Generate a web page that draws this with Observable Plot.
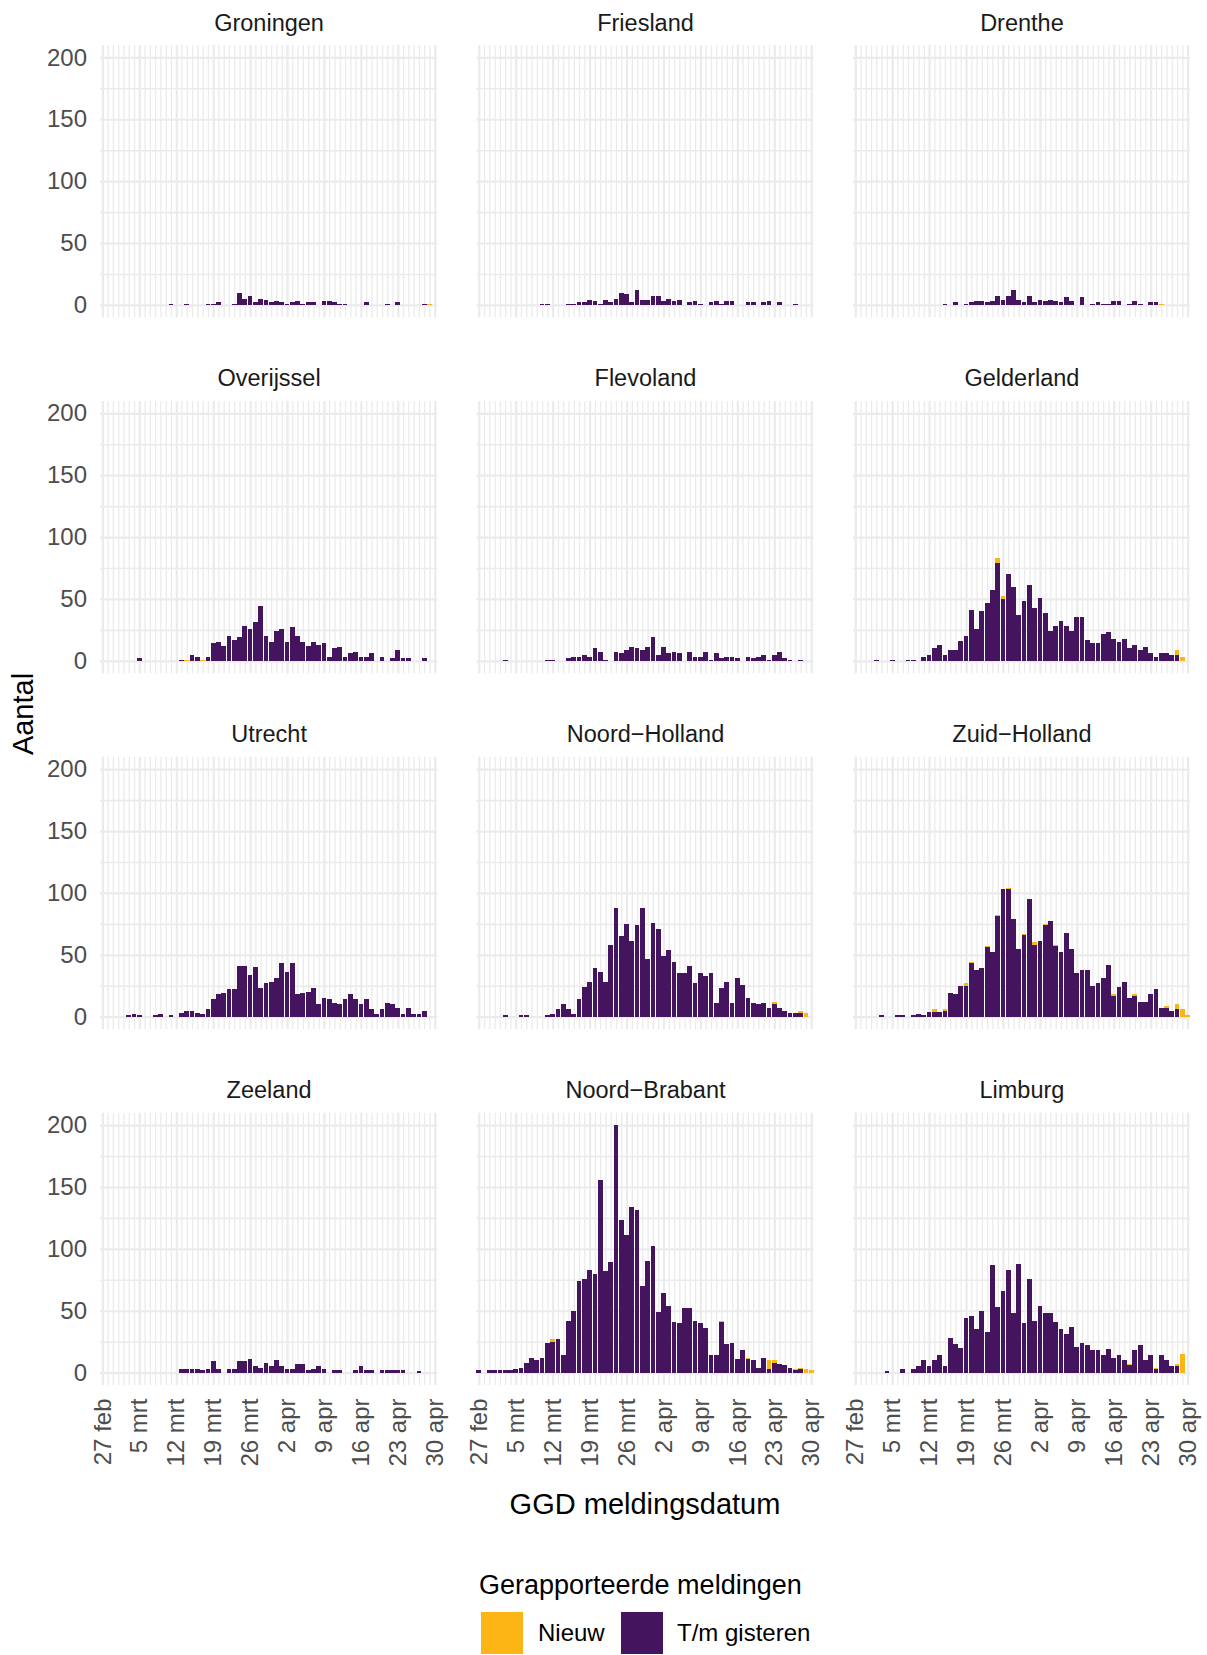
<!DOCTYPE html>
<html>
<head>
<meta charset="utf-8">
<script src="https://cdn.jsdelivr.net/npm/d3@7"></script>
<script src="https://cdn.jsdelivr.net/npm/@observablehq/plot@0.6"></script>
<style>
  body { margin: 0; background: #ffffff; font-family: "Liberation Sans", Arial, sans-serif; }
  #wrap { position: relative; width: 1207px; height: 1655px; overflow: hidden; }
  #wrap svg { position: absolute; left: 0; top: 0; }
  .t { position: absolute; white-space: nowrap; color: #000; }
  .ytitle { left: 23px; top: 714px; font-size: 29px; transform: translate(-50%, -50%) rotate(-90deg); }
  .xtitle { left: 645px; top: 1504px; font-size: 29px; transform: translate(-50%, -50%); }
  .ltitle { left: 479px; top: 1585px; font-size: 27px; transform: translateY(-50%); }
  .key { position: absolute; top: 1612px; width: 42px; height: 42px; }
  .klab { position: absolute; top: 1633px; font-size: 24px; transform: translateY(-50%); color: #000; }
</style>
</head>
<body>
<div id="wrap"></div>
<script>
// ---- categories ----
const regions = ["Groningen","Friesland","Drenthe","Overijssel","Flevoland","Gelderland",
                 "Utrecht","Noord-Holland","Zuid-Holland","Zeeland","Noord-Brabant","Limburg"];
const panelTitles = ["Groningen","Friesland","Drenthe","Overijssel","Flevoland","Gelderland",
                     "Utrecht","Noord\u2212Holland","Zuid\u2212Holland","Zeeland","Noord\u2212Brabant","Limburg"];
const typeNames = ["Nieuw", "T/m gisteren"];
const typeColors = ["#FDB515", "#44155E"];

// ---- tick labels ----
const tickDates = ["2020-02-27","2020-03-05","2020-03-12","2020-03-19","2020-03-26",
                   "2020-04-02","2020-04-09","2020-04-16","2020-04-23","2020-04-30"];
const tickLabels = ["27 feb","5 mrt","12 mrt","19 mrt","26 mrt","2 apr","9 apr","16 apr","23 apr","30 apr"];
const yTicks = [0, 50, 100, 150, 200];
const yMinor = [25, 75, 125, 175];

// ---- daily values, 27 feb .. 30 apr 2020 (64 days) ----
// "T/m gisteren"
const gisteren_Groningen = [0,0,0,0,0,0,0, 0,0,0,0,0,0,1, 0,0,1,0,0,0,1, 1,2,0,0,1,10,5, 7,2,5,4,2,3,2, 1,2,3,1,2,2,0, 3,3,2,1,1,0,0, 0,2,0,0,0,1,0, 2,0,0,0,0,1,0, 0];
const gisteren_Friesland = [0,0,0,0,0,0,0, 0,0,0,0,0,1,1, 0,0,0,1,1,2,2, 4,3,1,4,2,5,10, 9,2,12,4,4,7,7, 3,5,3,4,0,2,3, 1,0,2,3,1,3,3, 0,0,2,2,0,2,3, 0,2,0,0,1,0,0, 0];
const gisteren_Drenthe = [0,0,0,0,0,0,0, 0,0,0,0,0,0,0, 0,0,0,1,0,2,0, 1,2,3,3,2,3,7, 4,7,12,4,2,7,2, 4,3,4,3,2,6,3, 0,6,0,1,2,1,1, 3,3,0,1,3,1,0, 2,2,0,0,0,0,0, 0];
const gisteren_Overijssel = [0,0,0,0,0,0,0, 2,0,0,0,0,0,0, 0,1,0,5,3,0,3, 14,15,12,20,17,19,28, 26,31,44,20,15,24,26, 15,27,20,15,12,15,13, 14,3,10,11,3,6,7, 3,3,6,0,3,0,2, 9,2,2,0,0,2,0, 0];
const gisteren_Flevoland = [0,0,0,0,0,1,0, 0,0,0,0,0,0,1, 1,0,0,2,3,3,5, 3,10,7,1,0,7,6, 9,11,10,9,11,19,5, 11,6,7,6,0,7,3, 3,7,1,6,2,3,3, 2,0,3,2,3,5,1, 5,7,2,1,0,1,0, 0];
const gisteren_Gelderland = [0,0,0,0,1,0,0, 1,0,0,1,1,0,3, 5,10,13,5,9,9,16, 20,41,26,40,47,57,79, 50,70,60,37,48,61,43, 51,39,24,28,32,28,24, 35,35,17,14,14,22,23, 18,15,18,10,13,9,11, 6,3,6,6,5,5,0, 0];
const gisteren_Utrecht = [0,0,0,0,0,1,2, 1,0,0,1,2,0,1, 0,3,5,5,3,2,6, 14,18,19,22,22,41,41, 34,40,23,27,28,31,43, 36,43,18,19,20,23,10, 15,14,11,10,14,18,14, 10,14,6,2,6,11,10, 7,2,7,2,2,5,0, 0];
const gisteren_NoordHolland = [0,0,0,0,0,1,0, 0,1,1,0,0,0,1, 2,6,10,6,2,14,24, 28,39,36,28,58,88,65, 75,61,74,88,47,76,71, 49,54,44,35,35,41,27, 35,33,35,11,23,28,11, 31,26,15,11,10,11,7, 10,7,5,3,3,3,0, 0];
const gisteren_ZuidHolland = [0,0,0,0,0,1,0, 0,1,1,0,1,2,1, 4,4,4,5,19,18,25, 25,43,38,39,56,52,81, 103,103,79,55,66,95,58, 61,74,77,57,52,68,55, 35,38,38,25,27,31,42, 17,24,28,15,17,12,12, 18,22,7,7,5,6,0, 0];
const gisteren_Zeeland = [0,0,0,0,0,0,0, 0,0,0,0,0,0,0, 0,3,3,3,3,2,3, 9,3,0,3,3,9,9, 11,5,4,8,5,10,5, 3,3,7,7,2,3,5, 3,0,2,2,0,0,2, 5,2,2,0,2,2,2, 2,2,0,0,1,0,0, 0];
const gisteren_NoordBrabant = [2,0,2,2,2,2,2, 3,4,8,12,10,12,24, 25,27,14,42,50,74,76, 83,80,156,82,89,200,123, 111,134,131,70,90,102,49, 64,54,41,40,52,52,42, 40,36,14,14,41,23,24, 11,18,11,10,4,12,3, 8,7,6,4,2,3,0, 0];
const gisteren_Limburg = [0,0,0,0,0,0,1, 0,0,3,0,3,5,10, 5,10,14,5,28,23,20, 44,46,35,50,33,87,53, 66,83,48,88,40,76,42, 54,48,48,41,35,31,37, 21,24,22,18,18,14,19, 12,14,10,6,18,22,10, 14,3,14,10,5,5,0, 0];

// "Nieuw"
const nieuw_Groningen = [0,0,0,0,0,0,0, 0,0,0,0,0,0,0, 0,0,0,0,0,0,0, 0,0,0,0,0,0,0, 0,0,0,0,0,0,0, 0,0,0,0,0,0,0, 0,0,0,0,0,0,0, 0,0,0,0,0,0,0, 0,0,0,0,0,0,1, 0];
const nieuw_Friesland = new Array(64).fill(0);
const nieuw_Drenthe = [0,0,0,0,0,0,0, 0,0,0,0,0,0,0, 0,0,0,0,0,0,0, 0,0,0,0,0,0,0, 0,0,0,0,0,0,0, 0,0,0,0,0,0,0, 0,0,0,0,0,0,0, 0,0,0,0,0,0,0, 0,0,1,0,0,0,0, 0];
const nieuw_Overijssel = [0,0,0,0,0,0,0, 0,0,0,0,0,0,0, 0,0,1,0,0,1,0, 0,0,0,0,0,0,0, 0,0,0,0,0,0,0, 0,0,0,0,0,0,0, 0,0,0,0,0,0,0, 0,0,0,0,0,0,0, 0,0,0,0,0,0,0, 0];
const nieuw_Flevoland = new Array(64).fill(0);
const nieuw_Gelderland = [0,0,0,0,0,0,0, 0,0,0,0,0,0,0, 0,0,0,0,0,0,0, 0,0,0,0,0,0,4, 2,0,0,0,0,0,0, 0,0,0,0,0,0,0, 0,0,0,0,0,0,0, 0,0,0,0,0,0,0, 0,0,0,0,0,4,3, 0];
const nieuw_Utrecht = new Array(64).fill(0);
const nieuw_NoordHolland = [0,0,0,0,0,0,0, 0,0,0,0,0,0,0, 0,0,0,0,0,0,0, 0,0,0,0,0,0,0, 0,0,0,0,0,0,0, 0,0,0,0,0,0,0, 0,0,0,0,0,0,0, 0,0,0,0,0,0,0, 2,0,0,0,0,2,3, 0];
const nieuw_ZuidHolland = [0,0,0,0,0,0,0, 0,0,0,0,0,0,0, 0,2,0,1,0,0,0, 2,1,0,0,1,0,1, 0,1,0,0,1,0,2, 0,1,0,1,0,0,0, 0,0,0,0,0,0,0, 1,0,0,0,1,0,0, 0,0,0,2,0,4,6, 1];
const nieuw_Zeeland = new Array(64).fill(0);
const nieuw_NoordBrabant = [0,0,0,0,0,0,0, 0,0,0,0,0,0,0, 2,0,0,0,0,0,0, 0,0,0,0,0,0,0, 0,0,0,0,0,0,0, 0,0,0,0,0,0,0, 0,0,0,0,1,0,0, 0,0,1,0,0,0,7, 2,0,0,0,1,1,3, 2];
const nieuw_Limburg = [0,0,0,0,0,0,0, 0,0,0,0,0,0,0, 0,0,0,0,0,0,0, 0,0,0,0,0,0,0, 0,0,0,0,0,0,0, 0,0,0,0,0,0,0, 0,0,0,0,0,0,0, 0,0,0,1,0,0,0, 0,1,0,0,0,2,15, 0];

const gisterenSeries = [gisteren_Groningen, gisteren_Friesland, gisteren_Drenthe, gisteren_Overijssel,
  gisteren_Flevoland, gisteren_Gelderland, gisteren_Utrecht, gisteren_NoordHolland, gisteren_ZuidHolland,
  gisteren_Zeeland, gisteren_NoordBrabant, gisteren_Limburg];
const nieuwSeries = [nieuw_Groningen, nieuw_Friesland, nieuw_Drenthe, nieuw_Overijssel,
  nieuw_Flevoland, nieuw_Gelderland, nieuw_Utrecht, nieuw_NoordHolland, nieuw_ZuidHolland,
  nieuw_Zeeland, nieuw_NoordBrabant, nieuw_Limburg];

// ---- build table ----
const fmt = d3.utcFormat("%Y-%m-%d");
const dates = d3.utcDay.range(new Date(Date.UTC(2020, 1, 27)), new Date(Date.UTC(2020, 4, 1))).map(fmt);
const tickLabelOf = new Map(tickDates.map((d, i) => [d, tickLabels[i]]));

const table = [];
regions.forEach((r, i) => {
  const col = i % 3, row = Math.floor(i / 3);
  dates.forEach((date, k) => {
    const g = gisterenSeries[i][k], n = nieuwSeries[i][k];
    if (g > 0) table.push({region: r, col, row, date, type: "T/m gisteren", value: g});
    if (n > 0) table.push({region: r, col, row, date, type: "Nieuw", value: n});
  });
});
const panels = regions.map((r, i) => ({region: r, title: panelTitles[i], col: i % 3, row: Math.floor(i / 3)}));

const grid = "#EBEBEB";
const plot = Plot.plot({
  width: 1207,
  height: 1555,
  marginLeft: 100,
  marginRight: 17,
  marginTop: 45,
  marginBottom: 170,
  style: {fontFamily: "'Liberation Sans', Arial, sans-serif", fontSize: "24px", background: "transparent", overflow: "visible"},
  fx: {domain: [0, 1, 2], paddingInner: 0.1044, paddingOuter: 0, round: false, axis: null, label: null},
  fy: {domain: [0, 1, 2, 3], paddingInner: 0.235, paddingOuter: 0, round: false, axis: null, label: null},
  x: {type: "band", domain: dates, paddingInner: 0.1, paddingOuter: 0, align: 0.5, round: false, label: null},
  y: {domain: [-10, 210], label: null},
  color: {domain: typeNames, range: typeColors},
  marks: [
    Plot.gridY(yMinor, {stroke: grid, strokeOpacity: 1, strokeWidth: 1.6}),
    Plot.gridY(yTicks, {stroke: grid, strokeOpacity: 1, strokeWidth: 2.2}),
    Plot.gridX(dates, {stroke: grid, strokeOpacity: 1, strokeWidth: 1.3}),
    Plot.gridX(tickDates, {stroke: grid, strokeOpacity: 1, strokeWidth: 2.2}),
    Plot.barY(table, {x: "date", y: "value", fill: "type", fx: "col", fy: "row",
                      order: ["T/m gisteren", "Nieuw"], shapeRendering: "crispEdges"}),
    Plot.text(panels, {fx: "col", fy: "row", text: "title", frameAnchor: "top", lineAnchor: "middle",
                       dy: -22.5, fontSize: 23.5, fill: "#1A1A1A"}),
    Plot.axisY({ticks: yTicks, tickSize: 0, tickPadding: 13.5, fontSize: 24, color: "#4D4D4D", label: null}),
    Plot.axisX({ticks: tickDates, tickFormat: d => tickLabelOf.get(d), tickRotate: -90, tickSize: 0,
                tickPadding: 13, fontSize: 24, color: "#4D4D4D", label: null})
  ]
});

const wrap = document.getElementById("wrap");
wrap.appendChild(plot);

function addText(cls, txt) {
  const d = document.createElement("div");
  d.className = "t " + cls;
  d.textContent = txt;
  wrap.appendChild(d);
}
addText("ytitle", "Aantal");
addText("xtitle", "GGD meldingsdatum");
addText("ltitle", "Gerapporteerde meldingen");

const keyX = [481, 621];
const labX = [538, 677];
typeNames.forEach((t, i) => {
  const k = document.createElement("div");
  k.className = "key";
  k.style.left = keyX[i] + "px";
  k.style.background = typeColors[i];
  wrap.appendChild(k);
  const l = document.createElement("div");
  l.className = "klab";
  l.style.left = labX[i] + "px";
  l.textContent = t;
  wrap.appendChild(l);
});
</script>
</body>
</html>
